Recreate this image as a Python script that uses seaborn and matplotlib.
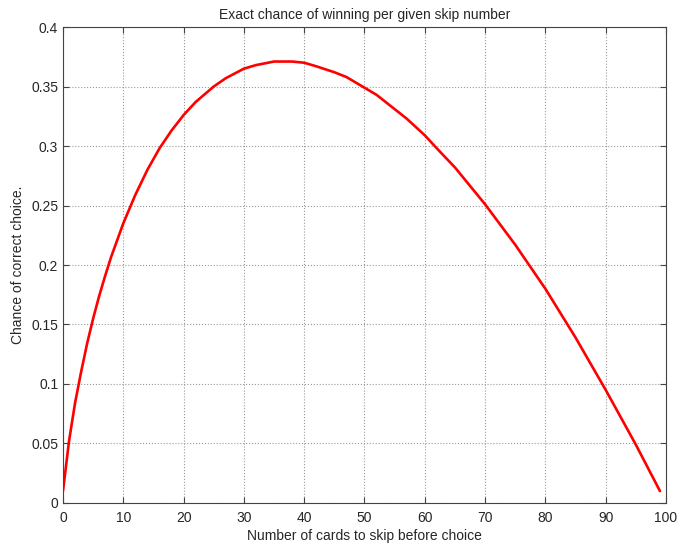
import numpy as np
import pandas as pd
import matplotlib
matplotlib.use("Agg")
import matplotlib.pyplot as plt
import seaborn as sns

# cards skipped vs chance of picking the best one
skip = [0, 1, 2, 3, 4, 5, 6, 7, 8, 9, 10, 12, 14, 15, 16, 18, 20, 22, 25,
        27, 30, 32, 33, 35, 37, 38, 40, 42, 45, 47, 50, 52, 55, 57, 60, 62,
        65, 70, 75, 80, 85, 90, 95, 99]
chance = [0.010, 0.052, 0.084, 0.110, 0.134, 0.155, 0.174, 0.191, 0.207,
          0.221, 0.235, 0.259, 0.280, 0.289, 0.298, 0.313, 0.326, 0.337,
          0.350, 0.357, 0.365, 0.368, 0.369, 0.371, 0.371, 0.371, 0.370,
          0.367, 0.362, 0.358, 0.349, 0.343, 0.331, 0.323, 0.309, 0.298,
          0.282, 0.251, 0.217, 0.180, 0.139, 0.095, 0.049, 0.010]

df = pd.DataFrame({"skip": skip, "chance": chance})

sns.set_style("white")
plt.rcParams["font.family"] = ["Liberation Sans", "DejaVu Sans"]
plt.rcParams["xtick.direction"] = "in"
plt.rcParams["ytick.direction"] = "in"

fig = plt.figure(figsize=(6.78, 5.46), dpi=100)
ax = fig.add_axes([0.0929, 0.0788, 0.8894, 0.8717])

sns.lineplot(data=df, x="skip", y="chance", color="red", lw=1.9, ax=ax)

ax.set_xlim(0, 100)
ax.set_ylim(0, 0.4)
ax.set_xticks(np.arange(0, 101, 10))
ax.set_yticks(np.arange(0, 0.41, 0.05))
ax.set_yticklabels(["0", "0.05", "0.1", "0.15", "0.2", "0.25", "0.3", "0.35", "0.4"])
ax.grid(True, linestyle=":", color="#999999", linewidth=0.8)
ax.tick_params(labelsize=10, length=4, color="#444444", top=True, right=True,
               bottom=True, left=True, labeltop=False, labelright=False)
ax.tick_params(axis="x", pad=6)
for s in ax.spines.values():
    s.set_color("#444444")
    s.set_linewidth(0.8)

ax.set_xlabel("Number of cards to skip before choice", fontsize=10, labelpad=3)
ax.set_ylabel("Chance of correct choice.", fontsize=10)
ax.set_title("Exact chance of winning per given skip number", fontsize=10)

fig.savefig("out.png", dpi=100)
